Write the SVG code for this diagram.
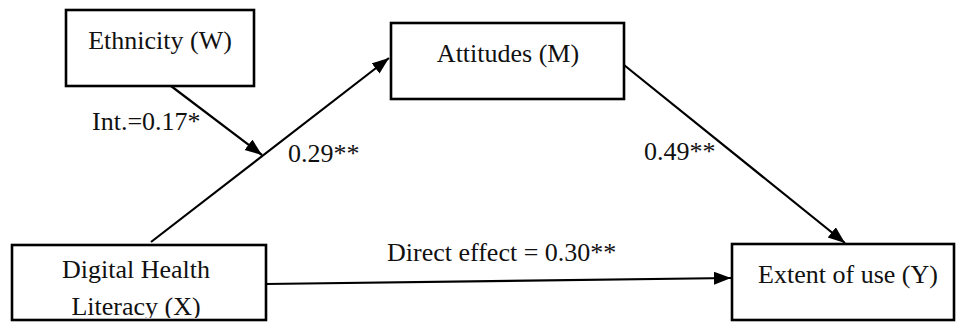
<svg xmlns="http://www.w3.org/2000/svg" width="956" height="322" viewBox="0 0 956 322">
<style>
.box{fill:#fff;stroke:#000;stroke-width:2.6}
.t{font-family:"Liberation Serif","Times New Roman",serif;font-size:26px;fill:#111}
.c{stroke:#000;stroke-width:2.2;fill:none}
</style>
<defs>
<marker id="ah" markerUnits="userSpaceOnUse" markerWidth="18" markerHeight="14" refX="17" refY="6.5" orient="auto">
<path d="M0,0 L17,6.5 L0,13 z" fill="#000"/>
</marker>
<clipPath id="xclip"><rect x="13" y="246" width="252" height="72"/></clipPath>
</defs>
<rect width="956" height="322" fill="#fff"/>
<g id="connectors">
<line class="c" x1="171" y1="86" x2="262" y2="155" marker-end="url(#ah)"/>
<line class="c" x1="151" y1="242" x2="389" y2="58" marker-end="url(#ah)"/>
<line class="c" x1="624" y1="65" x2="845" y2="243" marker-end="url(#ah)"/>
<line class="c" x1="266" y1="284" x2="731" y2="278" marker-end="url(#ah)"/>
</g>
<g id="labels">
<text class="t" x="92" y="130">Int.=0.17*</text>
<text class="t" x="288" y="162">0.29**</text>
<text class="t" x="644" y="160">0.49**</text>
<text class="t" x="387" y="261">Direct effect = 0.30**</text>
</g>
<g id="node-w">
<rect class="box" x="66" y="10" width="188" height="76"/>
<text class="t" x="160" y="49" text-anchor="middle">Ethnicity (W)</text>
</g>
<g id="node-m">
<rect class="box" x="391" y="23" width="233" height="76"/>
<text class="t" x="508" y="62" text-anchor="middle">Attitudes (M)</text>
</g>
<g id="node-y">
<rect class="box" x="732" y="244" width="222" height="76"/>
<text class="t" x="848" y="283" text-anchor="middle">Extent of use (Y)</text>
</g>
<g id="node-x">
<rect class="box" x="12" y="245" width="254" height="75"/>
<text class="t" x="136" y="278" text-anchor="middle">Digital Health</text>
<text class="t" x="136" y="315" text-anchor="middle" clip-path="url(#xclip)">Literacy (X)</text>
</g>
</svg>
